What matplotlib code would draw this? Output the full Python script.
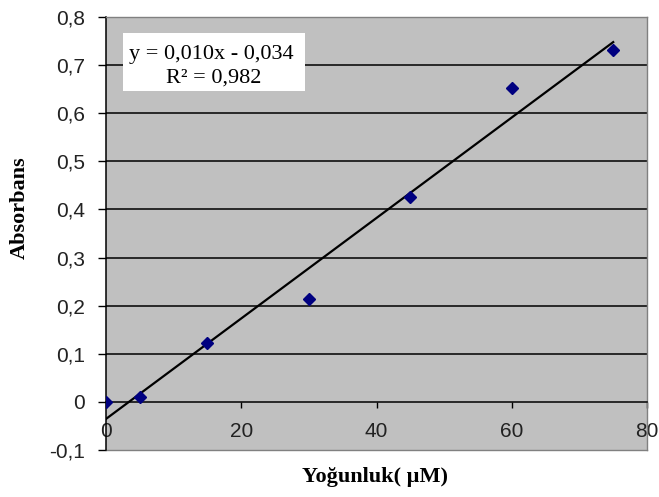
import numpy as np
import matplotlib
matplotlib.use("Agg")
import matplotlib.pyplot as plt
from matplotlib.patches import Rectangle

# Data
concentration = [0, 5, 15, 30, 45, 60, 75]
absorbance = [0.0, 0.011, 0.122, 0.213, 0.425, 0.652, 0.731]
x_ticks = [0, 20, 40, 60, 80]
y_ticks = [-0.1, 0.0, 0.1, 0.2, 0.3, 0.4, 0.5, 0.6, 0.7, 0.8]
y_tick_labels = ["-0,1", "0", "0,1", "0,2", "0,3", "0,4", "0,5", "0,6", "0,7", "0,8"]
x_tick_labels = ["0", "20", "40", "60", "80"]
eq_text = "y = 0,010x - 0,034"
r2_text = "R² = 0,982"

fig = plt.figure(figsize=(6.59, 4.97), dpi=100)
ax = fig.add_axes([0.1609, 0.0946, 0.8209, 0.8712])
ax.set_facecolor("#C0C0C0")

ax.set_xlim(0, 80)
ax.set_ylim(-0.1, 0.8)

# gridlines
for yv in y_ticks[2:-1]:
    ax.axhline(yv, color="black", lw=1.1, zorder=1)

# trendline
coef = np.polyfit(concentration, absorbance, 1)
xl = np.array([concentration[0], concentration[-1]])
ax.plot(xl, np.polyval(coef, xl), color="black", lw=1.6, zorder=3)

ax.plot(concentration, absorbance, linestyle="none", marker="D", markersize=6,
        color="#000080", zorder=4)

# spines
for s in ["top", "right"]:
    ax.spines[s].set_color("#808080")
    ax.spines[s].set_linewidth(1.0)
ax.spines["bottom"].set_position(("data", 0))
ax.spines["bottom"].set_color("black")
ax.spines["bottom"].set_linewidth(1.1)
ax.spines["left"].set_color("black")
ax.spines["left"].set_linewidth(1.1)
ax.plot([0, 1], [0, 0], transform=ax.transAxes, color="#808080", lw=1.0, clip_on=False)

ax.set_xticks(x_ticks)
ax.set_xticklabels(x_tick_labels)
ax.set_yticks(y_ticks)
ax.set_yticklabels(y_tick_labels)
ax.tick_params(axis="x", direction="out", length=4.5, width=1, pad=10,
               labelsize=15, labelcolor="#222222")
ax.tick_params(axis="y", direction="out", length=5.5, width=1, pad=9.5,
               labelsize=15, labelcolor="#222222")
for lab in ax.get_xticklabels() + ax.get_yticklabels():
    lab.set_family(["Liberation Sans", "DejaVu Sans"])

# equation box
ax.add_patch(Rectangle((0.0314, 0.829), 0.3364, 0.134, transform=ax.transAxes,
                       facecolor="white", edgecolor="none", zorder=5))
ax.text(0.1950, 0.9145, eq_text, transform=ax.transAxes, ha="center", va="center",
        fontsize=16, family=["Liberation Serif", "DejaVu Serif"], zorder=6)
ax.text(0.1987, 0.859, r2_text, transform=ax.transAxes, ha="center", va="center",
        fontsize=16, family=["Liberation Serif", "DejaVu Serif"], zorder=6)

fig.text(0.030, 0.5825, "Absorbans", rotation=90, ha="center", va="center",
         fontsize=16, fontweight="bold", family=["Liberation Serif", "DejaVu Serif"])
fig.text(0.569, 0.040, "Yoğunluk( µM)", ha="center", va="center",
         fontsize=16, fontweight="bold", family=["Liberation Serif", "DejaVu Serif"])

fig.savefig("out.png", dpi=100, facecolor="white")
